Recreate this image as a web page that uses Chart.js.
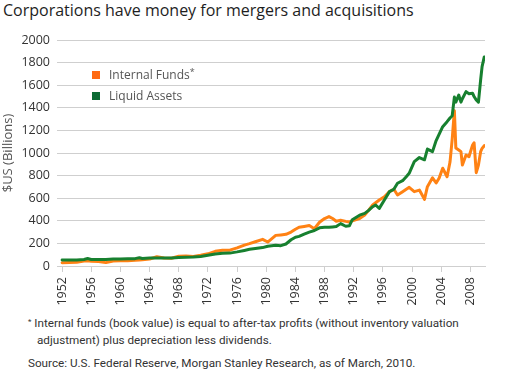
<!DOCTYPE html>
<html lang="en">
<head>
    <meta charset="UTF-8">
    <title>Corporations have money for mergers and acquisitions</title>
    <script src="https://cdn.jsdelivr.net/npm/chart.js"></script>
    <style>
        body { margin: 0; width: 514px; height: 374px; background: #fff; position: relative; overflow: hidden; }
        #title { position: absolute; left: 3px; top: -1px; font: 16px "Open Sans", sans-serif; color: #1e1e1e; white-space: nowrap; }
        #chartBox { position: absolute; left: 0; top: 0; width: 514px; height: 310px; }
        .legend { position: absolute; left: 92px; font: 12px "Open Sans", sans-serif; color: #555; white-space: nowrap; }
        .legend span.box { display: inline-block; width: 8px; height: 8px; margin-right: 9px; vertical-align: -0px; }
        .legend sup { font-size: 9px; vertical-align: 4px; line-height: 0; }
        .note { position: absolute; font: 11.7px Roboto, sans-serif; color: #333; white-space: nowrap; }
        .note sup { font-size: 8px; vertical-align: 3px; line-height: 0; }
    </style>
</head>
<body>
    <div id="title">Corporations have money for mergers and acquisitions</div>
    <div id="chartBox"><canvas id="mnaChart" width="514" height="310"></canvas></div>
    <div class="legend" style="top:66px"><span class="box" style="background:#ff6a13"></span>Internal Funds<sup>*</sup></div>
    <div class="legend" style="top:87px"><span class="box" style="background:#0d6b34"></span>Liquid Assets</div>
    <div class="note" style="left:28px; top:316px"><sup>*</sup> Internal funds (book value) is equal to after-tax profits (without inventory valuation</div>
    <div class="note" style="left:37px; top:333px">adjustment) plus depreciation less dividends.</div>
    <div class="note" style="left:28px; top:356px">Source: U.S. Federal Reserve, Morgan Stanley Research, as of March, 2010.</div>

    <script>
        // Data ($US billions)
        const years = [
            1952, 1953, 1954, 1955, 1955.5, 1956, 1957, 1958, 1959, 1960,
            1961, 1962, 1962.6, 1963, 1964, 1965, 1966, 1967, 1968, 1969,
            1970, 1971, 1972, 1973, 1974, 1975, 1976, 1977, 1977.7, 1978.5,
            1979.5, 1980.2, 1981.3, 1982, 1982.7, 1983.4, 1984, 1984.5, 1985.2, 1985.9,
            1986.6, 1987.3, 1988, 1988.6, 1989.1, 1989.6, 1990.2, 1990.9, 1991.4, 1991.8,
            1992.8, 1993.5, 1994, 1994.6, 1995, 1995.5, 1996.2, 1996.9, 1997.5, 1998,
            1998.7, 1999.2, 1999.6, 2000.3, 2001, 2001.7, 2002.1, 2002.8, 2003.3, 2003.7,
            2004.2, 2004.8, 2005.2, 2005.5, 2005.8, 2006, 2006.4, 2006.7, 2006.9, 2007.4,
            2007.8, 2008.3, 2008.5, 2008.8, 2009.1, 2009.4, 2009.6, 2009.9
        ];
        const internalFunds = [
            29, 32, 33, 45, 47, 42, 40, 30, 45, 46,
            47, 50, 52, 55, 62, 82, 70, 68, 86, 88,
            85, 95, 108, 130, 140, 140, 160, 185, 198, 215,
            236, 212, 271, 275, 280, 300, 325, 343, 350, 358,
            330, 387, 420, 437, 420, 396, 405, 395, 390, 400,
            420, 451, 490, 540, 560, 584, 613, 658, 679, 628,
            658, 680, 696, 658, 672, 590, 702, 780, 735, 776,
            865, 790, 920, 1120, 1375, 1045, 1027, 1012, 894, 982,
            967, 1071, 1091, 826, 894, 1012, 1041, 1065
        ];
        const liquidAssets = [
            53, 52, 54, 58, 66, 58, 57, 58, 63, 62,
            64, 65, 73, 66, 70, 71, 70, 71, 76, 78,
            79, 84, 95, 106, 113, 114, 125, 138, 148, 155,
            163, 175, 183, 180, 195, 232, 255, 262, 282, 300,
            314, 338, 342, 343, 346, 349, 375, 352, 356, 410,
            450, 466, 490, 525, 540, 510, 584, 658, 679, 732,
            755, 790, 820, 923, 960, 940, 1035, 1012, 1110, 1165,
            1233, 1277, 1310, 1330, 1495, 1450, 1513, 1450, 1480, 1543,
            1525, 1528, 1500, 1469, 1450, 1646, 1764, 1850
        ];
        const yearTicks = [1952, 1956, 1960, 1964, 1968, 1972, 1976, 1980, 1984, 1988, 1992, 1996, 2000, 2004, 2008];

        const toPoints = vals => years.map((x, i) => ({ x: x, y: vals[i] }));

        const ctx = document.getElementById('mnaChart').getContext('2d');
        new Chart(ctx, {
            type: 'line',
            data: {
                datasets: [{
                    label: 'Liquid Assets',
                    data: toPoints(liquidAssets),
                    borderColor: '#17802f',
                    borderWidth: 3,
                    order: 0
                }, {
                    label: 'Internal Funds*',
                    data: toPoints(internalFunds),
                    borderColor: '#ff8214',
                    borderWidth: 3,
                    order: 1
                }]
            },
            options: {
                responsive: false,
                animation: false,
                devicePixelRatio: 1,
                elements: {
                    point: { radius: 0 },
                    line: { tension: 0, borderJoinStyle: 'round', borderCapStyle: 'round' }
                },
                layout: { padding: { top: 40, right: 29, left: 0, bottom: 0 } },
                plugins: {
                    legend: { display: false },
                    tooltip: { enabled: false }
                },
                scales: {
                    x: {
                        type: 'linear',
                        min: 1951.3,
                        max: 2010,
                        afterBuildTicks: scale => { scale.ticks = yearTicks.map(v => ({ value: v })); },
                        afterFit: scale => { scale.height = 44; },
                        ticks: {
                            autoSkip: false,
                            minRotation: 90,
                            maxRotation: 90,
                            padding: 5,
                            color: '#333',
                            font: { family: 'Open Sans', size: 12.5 },
                            callback: v => String(v)
                        },
                        grid: { drawOnChartArea: false, drawTicks: true, tickLength: 6, color: '#cfcfcf' },
                        border: { display: true, color: '#cfcfcf' }
                    },
                    y: {
                        min: 0,
                        max: 2000,
                        afterFit: scale => { scale.width = 57; },
                        ticks: {
                            stepSize: 200,
                            padding: 7,
                            color: '#333',
                            font: { family: 'Open Sans', size: 12.5 },
                            callback: v => String(v)
                        },
                        grid: { drawTicks: false, color: '#cfcfcf', lineWidth: 1 },
                        border: { display: false },
                        title: {
                            display: true,
                            text: '$US (Billions)',
                            color: '#555',
                            padding: 0,
                            font: { family: 'Open Sans', size: 13 }
                        }
                    }
                }
            }
        });
    </script>
</body>
</html>
